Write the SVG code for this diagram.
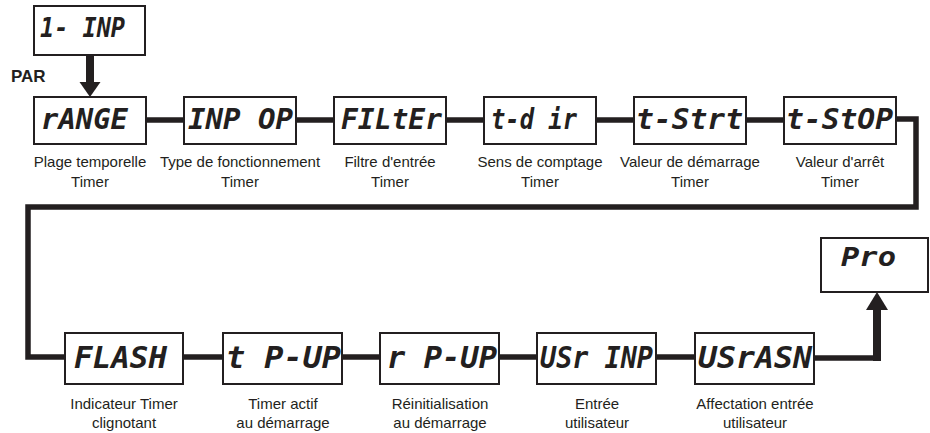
<svg xmlns="http://www.w3.org/2000/svg" width="930" height="433" viewBox="0 0 930 433">
<style>
.box{fill:#fff;stroke:#231f20;stroke-width:2}
.disp{font-family:"DejaVu Sans Mono","Liberation Mono",monospace;font-weight:bold;font-style:italic;fill:#231f20}
.lbl{font-family:"Liberation Sans",Arial,sans-serif;font-size:15px;fill:#231f20;text-anchor:middle}
.con{fill:none;stroke:#231f20;stroke-width:5.5;stroke-linejoin:miter}
.arr{fill:#231f20;stroke:none}
</style>
<rect width="930" height="433" fill="#fff"/>
<g id="connectors">
<path class="con" d="M146 120H184M296 120H334M446 120H484M596 120H634M746 120H784M896 119H916V207H28V357H65"/>
<path class="con" d="M184 357H223M342 357H380M499 357H537M656 357H695M814 358H880"/>
<rect class="arr" x="86" y="55" width="8" height="28"/>
<polygon class="arr" points="79.5,82 100.5,82 90,97"/>
<rect class="arr" x="873" y="306" width="8" height="55"/>
<polygon class="arr" points="866,310 888,310 877,292"/>
</g>
<g id="n-1inp"><rect class="box" x="34" y="6" width="111" height="49"/><text class="disp" x="40" y="37" font-size="27" textLength="85" lengthAdjust="spacingAndGlyphs">1- INP</text></g>
<text x="11" y="82" font-family="Liberation Sans,Arial,sans-serif" font-weight="bold" font-size="17" fill="#231f20">PAR</text>
<g id="n-range"><rect class="box" x="34" y="97" width="112" height="47"/><text class="disp" x="41" y="129" font-size="28" textLength="87" lengthAdjust="spacingAndGlyphs">rANGE</text>
<text class="lbl" x="90" y="167">Plage temporelle</text><text class="lbl" x="90" y="187">Timer</text></g>
<g id="n-inpop"><rect class="box" x="184" y="97" width="112" height="47"/><text class="disp" x="188" y="129" font-size="28" textLength="105" lengthAdjust="spacingAndGlyphs">INP OP</text>
<text class="lbl" x="240" y="167">Type de fonctionnement</text><text class="lbl" x="240" y="187">Timer</text></g>
<g id="n-filter"><rect class="box" x="334" y="97" width="112" height="47"/><text class="disp" x="341" y="129" font-size="28" textLength="101" lengthAdjust="spacingAndGlyphs">FILtEr</text>
<text class="lbl" x="390" y="167">Filtre d'entrée</text><text class="lbl" x="390" y="187">Timer</text></g>
<g id="n-tdir"><rect class="box" x="484" y="97" width="112" height="47"/><text class="disp" x="491" y="129" font-size="28" textLength="86" lengthAdjust="spacingAndGlyphs">t-d ir</text>
<text class="lbl" x="540" y="167">Sens de comptage</text><text class="lbl" x="540" y="187">Timer</text></g>
<g id="n-tstrt"><rect class="box" x="634" y="97" width="112" height="47"/><text class="disp" x="636" y="129" font-size="28" textLength="107" lengthAdjust="spacingAndGlyphs">t-Strt</text>
<text class="lbl" x="690" y="167">Valeur de démarrage</text><text class="lbl" x="690" y="187">Timer</text></g>
<g id="n-tstop"><rect class="box" x="784" y="97" width="112" height="47"/><text class="disp" x="786" y="129" font-size="28" textLength="107" lengthAdjust="spacingAndGlyphs">t-StOP</text>
<text class="lbl" x="840" y="167">Valeur d'arrêt</text><text class="lbl" x="840" y="187">Timer</text></g>
<g id="n-flash"><rect class="box" x="65" y="333" width="118" height="51"/><text class="disp" x="74" y="368" font-size="30" textLength="93" lengthAdjust="spacingAndGlyphs">FLASH</text>
<text class="lbl" x="124" y="409">Indicateur Timer</text><text class="lbl" x="124" y="428">clignotant</text></g>
<g id="n-tpup"><rect class="box" x="223" y="333" width="119" height="51"/><text class="disp" x="226" y="368" font-size="30" textLength="115" lengthAdjust="spacingAndGlyphs">t P-UP</text>
<text class="lbl" x="283" y="409">Timer actif</text><text class="lbl" x="283" y="428">au démarrage</text></g>
<g id="n-rpup"><rect class="box" x="380" y="333" width="119" height="51"/><text class="disp" x="387" y="368" font-size="30" textLength="110" lengthAdjust="spacingAndGlyphs">r P-UP</text>
<text class="lbl" x="440" y="409">Réinitialisation</text><text class="lbl" x="440" y="428">au démarrage</text></g>
<g id="n-usrinp"><rect class="box" x="537" y="333" width="119" height="51"/><text class="disp" x="540" y="368" font-size="30" textLength="113" lengthAdjust="spacingAndGlyphs">USr INP</text>
<text class="lbl" x="597" y="409">Entrée</text><text class="lbl" x="597" y="428">utilisateur</text></g>
<g id="n-usrasn"><rect class="box" x="695" y="333" width="119" height="51"/><text class="disp" x="698" y="368" font-size="30" textLength="114" lengthAdjust="spacingAndGlyphs">USrASN</text>
<text class="lbl" x="755" y="409">Affectation entrée</text><text class="lbl" x="755" y="428">utilisateur</text></g>
<g id="n-pro"><rect class="box" x="821" y="238" width="107" height="54"/><text class="disp" x="841" y="266" font-size="26" textLength="55" lengthAdjust="spacingAndGlyphs">Pro</text></g>
</svg>
